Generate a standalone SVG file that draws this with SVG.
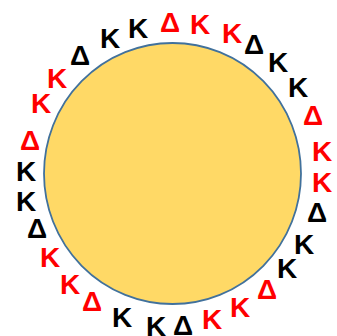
<svg xmlns="http://www.w3.org/2000/svg" width="337" height="336" viewBox="0 0 337 336">
<style>
text{font-family:"Liberation Sans",Arial,sans-serif;font-weight:bold;font-size:28px;text-anchor:middle}
.r{fill:#FF0000}
.b{fill:#000000}
</style>
<rect width="337" height="336" fill="#FFFFFF"/>
<g id="sun">
<ellipse cx="172.5" cy="173.5" rx="128.5" ry="130.5" fill="#FFD966" stroke="#41719C" stroke-width="1.8"/>
</g>
<g id="letters">
<text class="r" x="41" y="113">K</text>
<text class="r" x="57" y="88">K</text>
<text class="b" x="80" y="65">Δ</text>
<text class="b" x="110" y="48">K</text>
<text class="b" x="138" y="38">K</text>
<text class="r" x="170" y="32">Δ</text>
<text class="r" x="200" y="34">K</text>
<text class="r" x="232" y="43">K</text>
<text class="b" x="254" y="54">Δ</text>
<text class="b" x="278" y="72">K</text>
<text class="b" x="298" y="97">K</text>
<text class="r" x="313" y="125">Δ</text>
<text class="r" x="322" y="161">K</text>
<text class="r" x="322" y="192">K</text>
<text class="b" x="317" y="222">Δ</text>
<text class="b" x="304" y="254">K</text>
<text class="b" x="287" y="278">K</text>
<text class="r" x="267" y="299">Δ</text>
<text class="r" x="240" y="317">K</text>
<text class="r" x="212" y="329">K</text>
<text class="b" x="183" y="335">Δ</text>
<text class="b" x="156" y="336">K</text>
<text class="b" x="122" y="327">K</text>
<text class="r" x="92" y="311">Δ</text>
<text class="r" x="70" y="294">K</text>
<text class="r" x="50" y="267">K</text>
<text class="b" x="37" y="238">Δ</text>
<text class="b" x="26" y="211">K</text>
<text class="b" x="26" y="181">K</text>
<text class="r" x="30" y="150">Δ</text>
</g>
</svg>
